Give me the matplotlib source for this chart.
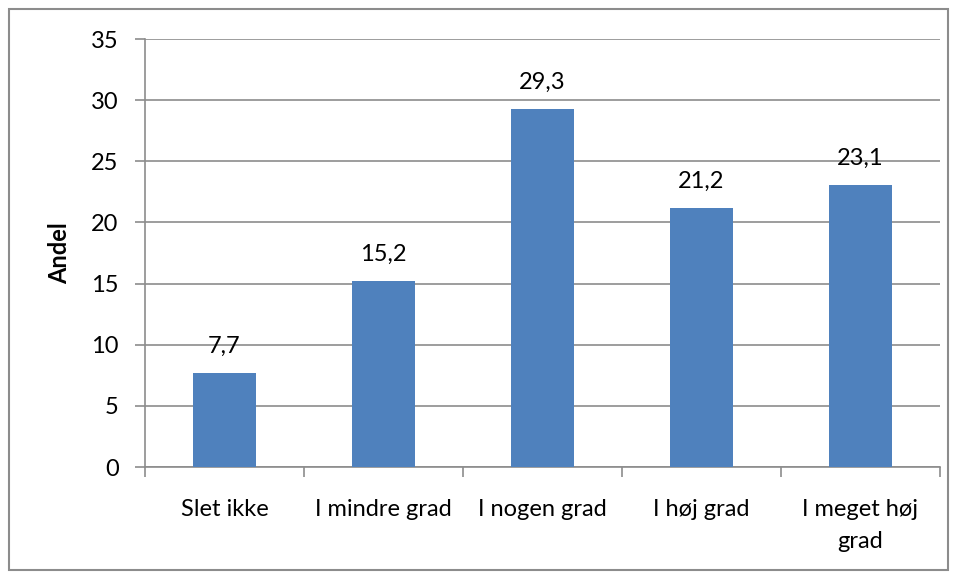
import matplotlib.pyplot as plt
import matplotlib.patches as patches
import numpy as np

categories = ['Slet ikke', 'I mindre grad', 'I nogen grad', 'I høj grad', 'I meget høj\ngrad']
values = [7.7, 15.2, 29.3, 21.2, 23.1]
value_labels = ['7,7', '15,2', '29,3', '21,2', '23,1']
y_ticks = [0, 5, 10, 15, 20, 25, 30, 35]

plt.rcParams['font.family'] = ['Lato', 'DejaVu Sans']

BAR_COLOR = '#4F81BD'
GRID_COLOR = '#8C8C8C'
FS = 17

fig = plt.figure(figsize=(9.57, 5.77), dpi=100)
ax = fig.add_axes([145 / 957, 1 - 467 / 577, (940 - 145) / 957, (467 - 39) / 577])

x = np.arange(len(categories))
ax.bar(x, values, width=0.4, color=BAR_COLOR, zorder=3)
for xi, v, lab in zip(x, values, value_labels):
    ax.text(xi, v + 1.3, lab, ha='center', va='bottom', fontsize=FS)

ax.set_xlim(-0.5, len(categories) - 0.5)
ax.set_ylim(0, 35)
ax.set_yticks(y_ticks)
ax.set_yticklabels([str(t) for t in y_ticks], fontsize=FS)
ax.yaxis.grid(True, color=GRID_COLOR, linewidth=1.2, zorder=0)

# category boundaries as major ticks, names as minor ticks
ax.set_xticks(np.arange(-0.5, len(categories), 1.0))
ax.set_xticklabels([])
ax.set_xticks(x, minor=True)
ax.set_xticklabels(categories, minor=True, fontsize=FS, linespacing=1.65)
ax.tick_params(axis='x', which='minor', length=0, pad=23)
ax.tick_params(axis='x', which='major', length=7, color=GRID_COLOR, width=1.2)
ax.tick_params(axis='y', length=7, color=GRID_COLOR, width=1.2, pad=12)

for side in ['top', 'right']:
    ax.spines[side].set_visible(False)
for side in ['left', 'bottom']:
    ax.spines[side].set_color(GRID_COLOR)
    ax.spines[side].set_linewidth(1.2)

ax.set_ylabel('Andel', fontsize=FS, fontweight='bold', labelpad=14)

# outer chart frame
frame = patches.Rectangle((9 / 957, 1 - 570 / 577), (948 - 9) / 957, (570 - 9) / 577,
                          transform=fig.transFigure, fill=False,
                          edgecolor='#8C8C8C', linewidth=1.5)
fig.patches.append(frame)

fig.savefig('out.png', dpi=100)
